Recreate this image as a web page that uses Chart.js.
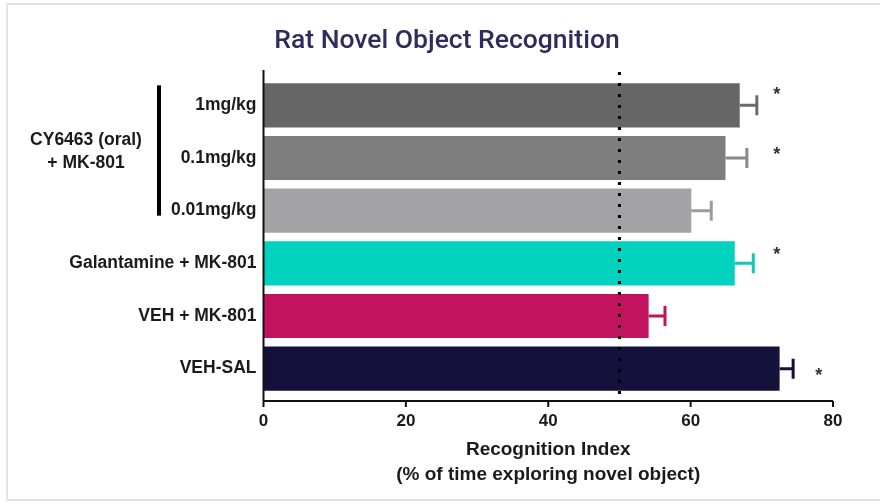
<!DOCTYPE html>
<html>
<head>
<meta charset="utf-8">
<title>Rat Novel Object Recognition</title>
<script src="https://cdn.jsdelivr.net/npm/chart.js@4.4.0/dist/chart.umd.min.js"></script>
<style>
  html, body { margin: 0; padding: 0; background: #fff; }
  #wrap { width: 880px; height: 504px; }
</style>
</head>
<body>
<div id="wrap"><canvas id="norChart" width="880" height="504"></canvas></div>
<script>
// Data
const groups = ['1mg/kg', '0.1mg/kg', '0.01mg/kg', 'Galantamine + MK-801', 'VEH + MK-801', 'VEH-SAL'];
const means = [66.9, 64.9, 60.1, 66.2, 54.1, 72.5];
const sem = [2.4, 3.0, 2.8, 2.6, 2.3, 1.9];
const xTicks = [0, 20, 40, 60, 80];
const chanceLevel = 50;
// significance markers: [x value, row index]
const stars = [[72.1, -0.24], [72.1, 0.91], [72.1, 2.81], [78.0, 5.11]];
const doseGroup = { text: ['CY6463 (oral)', '+ MK-801'], from: 0, to: 2 };
const chartTitle = 'Rat Novel Object Recognition';

const barColors = ['#666666', '#7e7e7e', '#a3a3a5', '#00d2be', '#c2135f', '#14123a'];
const errColors = ['#6a6a6a', '#8a8a8a', '#9c9c9c', '#10c8b6', '#c2135f', '#14123a'];

Chart.defaults.font.family = "'Liberation Sans', Arial, sans-serif";
Chart.defaults.color = '#1a1a1a';

const labelFont = { family: "'Liberation Sans', Arial, sans-serif", size: 17.5, weight: 'bold' };

// title, axes, reference line, error bars and annotations
const decorations = {
    id: 'decorations',
    afterDatasetsDraw(chart) {
        const { ctx, chartArea, scales: { x, y } } = chart;
        const axisTop = chartArea.top - 9;
        const axisY = chartArea.bottom + 6;
        ctx.save();

        // faint outer frame
        ctx.strokeStyle = '#e3e3e3';
        ctx.lineWidth = 2;
        ctx.beginPath();
        ctx.moveTo(880, 4);
        ctx.lineTo(7, 4);
        ctx.lineTo(7, 500);
        ctx.lineTo(880, 500);
        ctx.stroke();

        // title
        ctx.fillStyle = '#2c2d5c';
        ctx.font = '500 26.5px Roboto, sans-serif';
        ctx.textAlign = 'center';
        ctx.textBaseline = 'alphabetic';
        ctx.fillText(chartTitle, 447, 48);

        // error bars
        means.forEach((m, i) => {
            const yc = y.getPixelForValue(i);
            const x0 = x.getPixelForValue(m);
            const x1 = x.getPixelForValue(m + sem[i]);
            ctx.strokeStyle = errColors[i];
            ctx.lineWidth = 3;
            ctx.beginPath();
            ctx.moveTo(x0, yc);
            ctx.lineTo(x1, yc);
            ctx.moveTo(x1, yc - 10);
            ctx.lineTo(x1, yc + 10);
            ctx.stroke();
        });

        // dotted chance line
        const xc = x.getPixelForValue(chanceLevel);
        ctx.strokeStyle = '#000';
        ctx.lineWidth = 3;
        ctx.setLineDash([3, 8]);
        ctx.beginPath();
        ctx.moveTo(xc, axisTop + 2);
        ctx.lineTo(xc, axisY);
        ctx.stroke();
        ctx.setLineDash([]);

        // axis lines
        ctx.strokeStyle = '#111';
        ctx.lineWidth = 2;
        ctx.beginPath();
        ctx.moveTo(chartArea.left, axisTop);
        ctx.lineTo(chartArea.left, axisY);
        ctx.lineTo(x.getPixelForValue(xTicks[xTicks.length - 1]), axisY);
        xTicks.forEach(t => {
            const px = x.getPixelForValue(t);
            ctx.moveTo(px, axisY);
            ctx.lineTo(px, axisY + 6);
        });
        ctx.stroke();

        // significance stars
        ctx.fillStyle = '#333';
        ctx.font = 'bold 18px "Liberation Sans", Arial, sans-serif';
        ctx.textBaseline = 'middle';
        stars.forEach(([sx, row]) => {
            ctx.fillText('*', x.getPixelForValue(sx), y.getPixelForValue(row) + 2);
        });

        // dose group bracket and label
        const top = y.getPixelForValue(doseGroup.from) - 20;
        const bottom = y.getPixelForValue(doseGroup.to) + 5;
        ctx.strokeStyle = '#000';
        ctx.lineWidth = 4;
        ctx.beginPath();
        ctx.moveTo(159, top);
        ctx.lineTo(159, bottom);
        ctx.stroke();

        ctx.fillStyle = '#1a1a1a';
        ctx.font = 'bold 17.5px "Liberation Sans", Arial, sans-serif';
        const mid = y.getPixelForValue((doseGroup.from + doseGroup.to) / 2) - 7;
        ctx.fillText(doseGroup.text[0], 86, mid - 11);
        ctx.fillText(doseGroup.text[1], 86, mid + 12);
        ctx.restore();
    }
};

const ctx = document.getElementById('norChart').getContext('2d');
new Chart(ctx, {
    type: 'bar',
    data: {
        labels: groups,
        datasets: [{
            data: means,
            backgroundColor: barColors,
            borderWidth: 0,
            barPercentage: 0.84,
            categoryPercentage: 1
        }]
    },
    options: {
        indexAxis: 'y',
        responsive: false,
        animation: false,
        devicePixelRatio: 1,
        layout: {
            padding: { left: 10, right: 47, top: 79, bottom: 0 }
        },
        scales: {
            x: {
                min: 0,
                max: 80,
                afterFit(scale) { scale.height = 109; },
                afterBuildTicks(scale) { scale.ticks = xTicks.map(v => ({ value: v })); },
                grid: { display: false, drawTicks: true, tickLength: 12 },
                border: { display: false },
                ticks: { font: { ...labelFont, size: 17 }, color: '#1a1a1a', padding: 4, maxRotation: 0 },
                title: {
                    display: true,
                    text: ['Recognition Index', '(% of time exploring novel object)'],
                    font: { family: "'Liberation Sans', Arial, sans-serif", size: 19, weight: 'bold', lineHeight: 1.32 },
                    color: '#1a1a1a',
                    padding: { top: 0, bottom: 17 }
                }
            },
            y: {
                afterFit(scale) { scale.width = 253.5; },
                grid: { display: false, drawTicks: false },
                border: { display: false },
                ticks: { font: labelFont, color: '#1a1a1a', padding: 7 }
            }
        },
        plugins: {
            legend: { display: false },
            tooltip: { enabled: false },
            title: { display: false }
        }
    },
    plugins: [decorations]
});
</script>
</body>
</html>
